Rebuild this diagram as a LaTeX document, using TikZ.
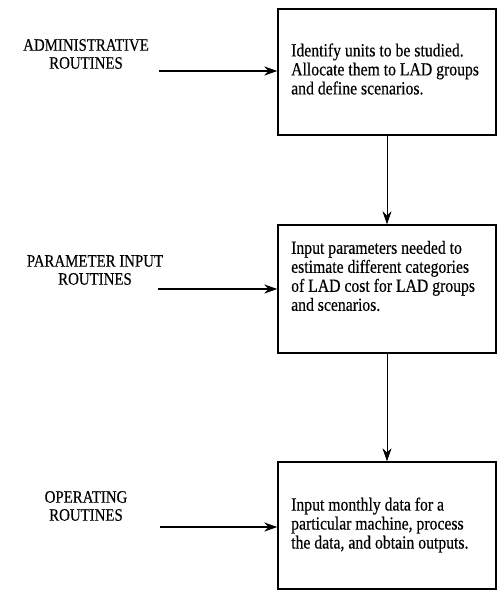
\documentclass[tikz,border=0pt]{standalone}
\usepackage{fontspec}
\setmainfont[FakeStretch=0.85,FakeBold=0.4]{Liberation Serif}
\usetikzlibrary{arrows.meta}
\begin{document}
\begin{tikzpicture}[x=1pt,y=-1pt,
  box/.style={draw, line width=1.4pt, minimum width=218pt, inner sep=0pt},
  txt/.style={anchor=west, align=left, font=\fontsize{18.5}{19}\selectfont, inner sep=0pt},
  lbl/.style={align=center, font=\fontsize{17.5}{18}\selectfont, inner sep=0pt},
  arr/.style={line width=1.1pt, -{Stealth[length=13pt,width=9pt]}},
  varr/.style={line width=0.8pt, -{Stealth[length=13pt,width=9pt]}}]
\useasboundingbox (0,0) rectangle (497,590);
\node[box, minimum height=126pt] (b1) at (387,72) {};
\node[box, minimum height=128pt] (b2) at (387,289) {};
\node[box, minimum height=127pt] (b3) at (387,525.5) {};
\node[txt] (t1) at (291,69) {Identify units to be studied.\\Allocate them to LAD groups\\and define scenarios.};
\node[txt] (t2) at (291,276) {Input parameters needed to\\estimate different categories\\of LAD cost for LAD groups\\and scenarios.};
\node[txt] (t3) at (291,525) {Input monthly data for a\\particular machine, process\\the data, and obtain outputs.};
\node[lbl] (l1) at (86,54) {ADMINISTRATIVE\\ROUTINES};
\node[lbl] (l2) at (95,270) {PARAMETER INPUT\\ROUTINES};
\node[lbl] (l3) at (86,506) {OPERATING\\ROUTINES};
\coordinate (s1) at (159,71);
\coordinate (s2) at (158,289);
\coordinate (s3) at (160,527);
\draw[arr] (s1) -- (s1 -| b1.west);
\draw[arr] (s2) -- (s2 -| b2.west);
\draw[arr] (s3) -- (s3 -| b3.west);
\draw[varr] (b1) -- (b2);
\draw[varr] (b2) -- (b3);
\end{tikzpicture}
\end{document}
